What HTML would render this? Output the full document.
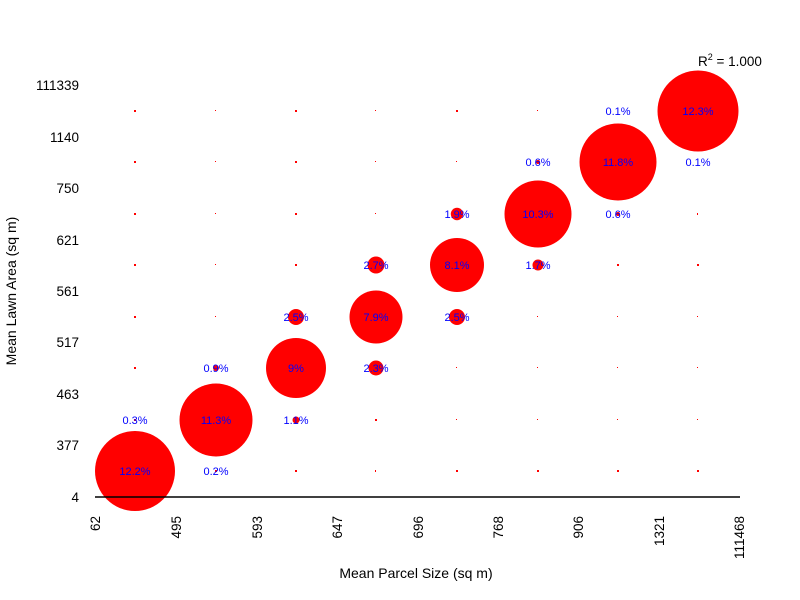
<!DOCTYPE html>
<html><head><style>body{margin:0;background:#fff}svg{display:block}</style></head><body>
<svg width="800" height="600" xmlns="http://www.w3.org/2000/svg" font-family="Liberation Sans, sans-serif" font-size="14">
<rect width="800" height="600" fill="#fff"/>
<g fill="red">
<circle cx="135" cy="471" r="40"/>
<circle cx="216" cy="420" r="36.5"/>
<circle cx="296" cy="368" r="30"/>
<circle cx="376" cy="317" r="26.5"/>
<circle cx="457" cy="265" r="27"/>
<circle cx="538" cy="214" r="33.5"/>
<circle cx="618" cy="162" r="38.5"/>
<circle cx="698" cy="111" r="40.5"/>
<circle cx="296" cy="317" r="8"/>
<circle cx="376" cy="368" r="7.5"/>
<circle cx="376" cy="265" r="8.5"/>
<circle cx="457" cy="317" r="8"/>
<circle cx="457" cy="214" r="6.2"/>
<circle cx="538" cy="265" r="5.5"/>
<circle cx="296" cy="420" r="3.5"/>
<circle cx="216" cy="368" r="3"/>
<circle cx="538" cy="162" r="2"/>
<circle cx="618" cy="214" r="2"/>
<rect x="134" y="419" width="2" height="2"/>
<rect x="215" y="470" width="2" height="2"/>
<rect x="134" y="367" width="2" height="2"/><rect x="134" y="316" width="2" height="2"/><rect x="134" y="264" width="2" height="2"/><rect x="134" y="213" width="2" height="2"/><rect x="134" y="161" width="2" height="2"/><rect x="134" y="110" width="2" height="2"/>
<rect x="215" y="316" width="1" height="1"/><rect x="215" y="264" width="1" height="1"/><rect x="215" y="213" width="1" height="1"/><rect x="215" y="161" width="1" height="1"/><rect x="215" y="110" width="1" height="1"/>
<rect x="295" y="470" width="2" height="2"/><rect x="295" y="264" width="2" height="2"/><rect x="295" y="213" width="2" height="2"/><rect x="295" y="161" width="2" height="2"/><rect x="295" y="110" width="2" height="2"/>
<rect x="375" y="470" width="1" height="2"/><rect x="375" y="419" width="2" height="2"/><rect x="375" y="213" width="1" height="1"/><rect x="375" y="161" width="1" height="1"/><rect x="375" y="110" width="1" height="1"/>
<rect x="456" y="470" width="2" height="2"/><rect x="456" y="419" width="1" height="1"/><rect x="456" y="367" width="1" height="1"/><rect x="456" y="161" width="1" height="1"/><rect x="456" y="110" width="2" height="2"/>
<rect x="537" y="470" width="2" height="2"/><rect x="537" y="419" width="1" height="1"/><rect x="537" y="367" width="1" height="1"/><rect x="537" y="316" width="1" height="1"/><rect x="537" y="110" width="1" height="1"/>
<rect x="617" y="470" width="2" height="2"/><rect x="617" y="419" width="1" height="1"/><rect x="617" y="367" width="1" height="1"/><rect x="617" y="316" width="1" height="1"/><rect x="617" y="264" width="2" height="2"/>
<rect x="697" y="470" width="2" height="2"/><rect x="697" y="419" width="1" height="1"/><rect x="697" y="367" width="1" height="1"/><rect x="697" y="316" width="1" height="1"/><rect x="697" y="264" width="2" height="2"/><rect x="697" y="213" width="1" height="2"/>
</g>
<g fill="#0000ff" font-size="11" text-anchor="middle">
<text x="135" y="475">12.2%</text><text x="135" y="424">0.3%</text>
<text x="216" y="475">0.2%</text><text x="216" y="424">11.3%</text><text x="216" y="372">0.9%</text>
<text x="296" y="424">1.1%</text><text x="296" y="372">9%</text><text x="296" y="321">2.5%</text>
<text x="376" y="372">2.3%</text><text x="376" y="321">7.9%</text><text x="376" y="269">2.7%</text>
<text x="457" y="321">2.5%</text><text x="457" y="269">8.1%</text><text x="457" y="218">1.9%</text>
<text x="538" y="269">1.7%</text><text x="538" y="218">10.3%</text><text x="538" y="166">0.6%</text>
<text x="618" y="218">0.6%</text><text x="618" y="166">11.8%</text><text x="618" y="115">0.1%</text>
<text x="698" y="166">0.1%</text><text x="698" y="115">12.3%</text>
</g>
<line x1="95" y1="497" x2="740" y2="497" stroke="#000" stroke-width="1.5"/>
<g text-anchor="end" fill="#000" font-size="13.5">
<text x="79" y="502">4</text><text x="79" y="450">377</text><text x="79" y="399">463</text><text x="79" y="347">517</text><text x="79" y="296">561</text><text x="79" y="245">621</text><text x="79" y="193">750</text><text x="79" y="142">1140</text><text x="79" y="90">111339</text>
</g>
<g text-anchor="end" fill="#000" font-size="13.5">
<text transform="translate(100,516) rotate(-90)">62</text>
<text transform="translate(181,516) rotate(-90)">495</text>
<text transform="translate(262,516) rotate(-90)">593</text>
<text transform="translate(342,516) rotate(-90)">647</text>
<text transform="translate(423,516) rotate(-90)">696</text>
<text transform="translate(503,516) rotate(-90)">768</text>
<text transform="translate(583,516) rotate(-90)">906</text>
<text transform="translate(664,516) rotate(-90)">1321</text>
<text transform="translate(744,516) rotate(-90)">111468</text>
</g>
<text x="416" y="578" text-anchor="middle">Mean Parcel Size (sq m)</text>
<text transform="translate(16,291) rotate(-90)" text-anchor="middle">Mean Lawn Area (sq m)</text>
<text x="698" y="66" font-size="13.5">R<tspan font-size="9" dy="-6">2</tspan><tspan dy="6"> = 1.000</tspan></text>
</svg>
</body></html>
